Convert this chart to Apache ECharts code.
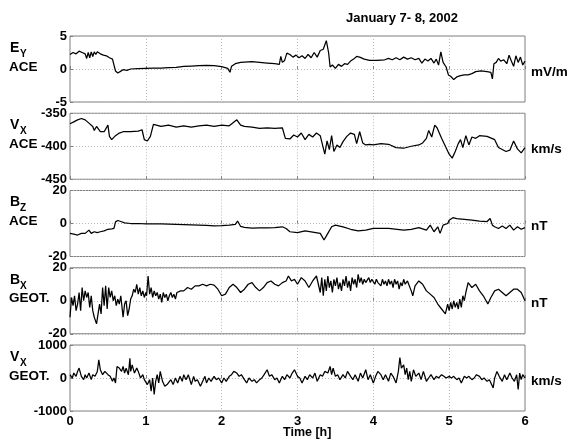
<!DOCTYPE html>
<html><head><meta charset="utf-8">
<script src="https://cdn.jsdelivr.net/npm/echarts@6/dist/echarts.min.js"></script>
<style>html,body{margin:0;padding:0;background:#fff}#c{width:585px;height:439px}</style>
</head><body><div id="c"></div>
<script>
// ---- data: [time (h), value] ----
const eyAce = [[0,2.2],[0.04,2.5],[0.08,2.3],[0.12,2.7],[0.16,2.5],[0.2,2.3],[0.22,1.6],[0.24,2.5],[0.26,1.7],[0.28,2.6],[0.3,1.9],[0.32,2.6],[0.34,2.2],[0.36,2.6],[0.4,2.3],[0.44,2.1],[0.48,2.0],[0.52,1.7],[0.56,1.5],[0.58,1.2],[0.6,-0.3],[0.63,-0.6],[0.66,-0.4],[0.7,-0.1],[0.75,-0.2],[0.8,0],[0.9,0.05],[1.0,0.1],[1.1,0.15],[1.2,0.15],[1.3,0.2],[1.4,0.25],[1.5,0.4],[1.6,0.45],[1.7,0.5],[1.8,0.55],[1.9,0.5],[2.0,0.35],[2.08,0.1],[2.11,-0.5],[2.13,0.4],[2.18,0.8],[2.25,1.0],[2.4,1.1],[2.5,1.0],[2.6,0.9],[2.7,0.8],[2.76,0.7],[2.78,1.9],[2.8,1.0],[2.83,1.3],[2.86,2.4],[2.9,2.2],[2.94,1.8],[2.98,2.1],[3.02,1.7],[3.06,2.0],[3.1,1.6],[3.14,2.2],[3.18,1.7],[3.22,2.5],[3.26,1.8],[3.3,2.8],[3.34,3.0],[3.38,4.3],[3.41,2.5],[3.43,0.3],[3.46,0.6],[3.5,0.1],[3.54,0.7],[3.58,0.4],[3.62,0.8],[3.66,0.7],[3.7,1.2],[3.74,1.5],[3.78,1.9],[3.82,1.8],[3.88,1.5],[3.95,1.3],[4.05,1.3],[4.15,1.4],[4.2,1.6],[4.25,1.4],[4.3,1.7],[4.35,1.4],[4.4,1.8],[4.45,1.5],[4.5,1.7],[4.55,1.4],[4.6,1.6],[4.64,0.9],[4.68,1.5],[4.72,1.2],[4.76,1.6],[4.8,0.9],[4.83,1.5],[4.86,0.6],[4.89,2.6],[4.92,1.0],[4.96,0.3],[4.99,-0.9],[5.02,-1.1],[5.06,-1.6],[5.1,-1.2],[5.15,-1.0],[5.2,-0.9],[5.25,-0.9],[5.3,-0.7],[5.35,-0.4],[5.42,-0.3],[5.5,-0.4],[5.55,-0.5],[5.57,-1.5],[5.59,0.8],[5.62,1.0],[5.65,1.6],[5.68,1.2],[5.72,1.4],[5.76,0.8],[5.79,2.1],[5.82,1.2],[5.85,0.4],[5.88,2.0],[5.91,1.0],[5.94,1.8],[5.97,0.6],[6.0,1.2]];

const vxAce = [[0,-366],[0.05,-363],[0.1,-360],[0.15,-358],[0.2,-360],[0.25,-365],[0.3,-370],[0.32,-376],[0.35,-370],[0.4,-378],[0.45,-378],[0.5,-368],[0.52,-385],[0.55,-390],[0.6,-384],[0.65,-380],[0.7,-378],[0.8,-378],[0.9,-377],[0.95,-375],[0.98,-390],[1.02,-392],[1.06,-385],[1.1,-367],[1.2,-370],[1.3,-368],[1.4,-371],[1.5,-369],[1.6,-371],[1.7,-369],[1.8,-368],[1.9,-370],[2.0,-368],[2.1,-369],[2.2,-360],[2.25,-368],[2.3,-370],[2.4,-371],[2.5,-373],[2.6,-372],[2.7,-373],[2.8,-372],[2.84,-388],[2.9,-389],[2.95,-383],[3.0,-386],[3.05,-380],[3.1,-390],[3.15,-382],[3.2,-386],[3.25,-380],[3.3,-384],[3.33,-398],[3.36,-412],[3.39,-392],[3.42,-405],[3.45,-384],[3.48,-408],[3.52,-398],[3.56,-402],[3.6,-393],[3.65,-385],[3.7,-380],[3.75,-382],[3.78,-396],[3.82,-378],[3.86,-395],[3.9,-398],[3.95,-397],[4.0,-398],[4.1,-396],[4.2,-397],[4.3,-402],[4.4,-403],[4.5,-400],[4.6,-398],[4.65,-395],[4.7,-388],[4.73,-376],[4.77,-386],[4.81,-368],[4.84,-372],[4.87,-380],[4.9,-388],[4.95,-400],[5.0,-412],[5.04,-418],[5.08,-408],[5.12,-396],[5.15,-390],[5.18,-402],[5.22,-384],[5.26,-398],[5.3,-386],[5.35,-388],[5.4,-384],[5.5,-385],[5.6,-390],[5.65,-402],[5.7,-405],[5.75,-408],[5.8,-406],[5.85,-392],[5.9,-404],[5.95,-410],[6.0,-402]];

const bzAce = [[0,-6],[0.05,-6.5],[0.1,-7],[0.15,-6],[0.2,-6],[0.25,-4],[0.28,-6],[0.32,-5],[0.36,-5.5],[0.4,-5],[0.45,-4.5],[0.5,-3.5],[0.55,-3.2],[0.58,-3],[0.6,1.0],[0.63,1.8],[0.67,1.2],[0.72,0.4],[0.8,0],[0.9,0],[1.0,-0.2],[1.2,-0.3],[1.4,-0.5],[1.6,-0.8],[1.8,-1.2],[1.9,-1.5],[2.0,-1.3],[2.1,-1.0],[2.18,-0.5],[2.21,1.5],[2.25,-1.8],[2.3,-2.3],[2.4,-2.8],[2.5,-2.6],[2.6,-2.7],[2.7,-2.5],[2.8,-2.0],[2.85,-3],[2.9,-5],[3.0,-5.5],[3.1,-4.5],[3.2,-5.2],[3.3,-6],[3.35,-10],[3.4,-6],[3.45,-2],[3.5,-1],[3.6,-2],[3.7,-3.5],[3.8,-4.5],[3.9,-4],[4.0,-3],[4.2,-3],[4.4,-4],[4.5,-3.5],[4.6,-2.5],[4.7,-4],[4.75,-1],[4.8,-5],[4.85,-2],[4.88,-6],[4.92,-1],[4.98,0],[5.0,2],[5.05,3.5],[5.1,3],[5.2,2.5],[5.3,2],[5.4,1.5],[5.5,1.2],[5.54,3],[5.57,-1],[5.6,-2],[5.65,-3],[5.7,-1.5],[5.75,-3],[5.8,-1],[5.85,-4],[5.9,-2],[5.95,-3.5],[6.0,-2.5]];

const bxGeot = [[0,-10],[0.02,2],[0.04,-3],[0.06,3],[0.08,-6],[0.1,-2],[0.12,5],[0.14,-6],[0.16,8],[0.18,0],[0.2,6],[0.22,2],[0.24,5],[0.26,-4],[0.28,3],[0.3,-6],[0.32,-10],[0.35,-14],[0.37,-8],[0.39,-2],[0.41,-8],[0.43,8],[0.45,-3],[0.47,9],[0.49,-5],[0.51,8],[0.53,2],[0.55,6],[0.57,0],[0.59,3],[0.61,-3],[0.63,1],[0.65,-2],[0.67,3],[0.7,-10],[0.72,-2],[0.74,0],[0.76,-9],[0.78,-5],[0.8,1],[0.82,3],[0.84,7],[0.86,5],[0.88,10],[0.9,4],[0.92,8],[0.94,3],[0.96,6],[0.98,2],[1.0,5],[1.01,3],[1.03,15],[1.05,4],[1.07,8],[1.09,2],[1.11,6],[1.13,3],[1.15,5],[1.17,1],[1.19,4],[1.21,-1],[1.23,5],[1.25,2],[1.27,4],[1.29,0],[1.31,3],[1.33,5],[1.35,2],[1.37,4],[1.39,1],[1.41,5],[1.43,4],[1.46,6],[1.5,6],[1.55,8],[1.6,7],[1.65,9],[1.7,9],[1.75,10],[1.8,9],[1.85,10],[1.9,9.5],[1.95,7],[2.0,3],[2.05,4],[2.1,8],[2.15,10],[2.2,8],[2.25,5],[2.3,7],[2.35,10],[2.4,11],[2.45,8],[2.5,6],[2.55,8],[2.6,11],[2.65,12],[2.7,10],[2.75,9],[2.8,11],[2.85,12],[2.88,15],[2.92,12],[2.96,13],[3.0,10],[3.05,14],[3.1,12],[3.15,8],[3.2,12],[3.25,15],[3.3,5],[3.32,14],[3.34,3],[3.36,13],[3.38,6],[3.4,15],[3.42,8],[3.44,12],[3.46,5],[3.48,13],[3.5,9],[3.52,14],[3.54,7],[3.56,11],[3.58,6],[3.6,13],[3.62,9],[3.64,15],[3.66,8],[3.68,12],[3.7,6],[3.72,14],[3.74,10],[3.76,13],[3.78,8],[3.8,16],[3.82,11],[3.84,14],[3.86,10],[3.88,13],[3.9,11],[3.92,12],[3.94,14],[3.96,11],[3.98,13],[4.0,12],[4.02,10],[4.04,13],[4.06,11],[4.08,12],[4.1,9],[4.12,13],[4.14,10],[4.16,12],[4.18,9],[4.2,13],[4.22,10],[4.24,12],[4.26,8],[4.28,13],[4.3,10],[4.32,12],[4.34,7],[4.36,11],[4.38,9],[4.4,13],[4.42,10],[4.45,12],[4.5,6],[4.52,3],[4.55,9],[4.6,12],[4.65,10],[4.7,6],[4.75,4],[4.8,2],[4.85,-2],[4.9,-5],[4.95,-8],[4.98,-2],[5.0,-6],[5.02,-1],[5.04,-5],[5.06,0],[5.08,-4],[5.1,-1],[5.12,-5],[5.14,1],[5.16,-4],[5.18,3],[5.2,0],[5.22,5],[5.25,11],[5.3,8],[5.35,10],[5.4,6],[5.45,3],[5.51,-2],[5.55,2],[5.6,6],[5.65,7],[5.7,5],[5.75,3],[5.8,5],[5.85,7],[5.9,7],[5.95,5],[6.0,0]];

const vxGeot = [[0,100],[0.03,0],[0.05,150],[0.08,50],[0.1,200],[0.12,300],[0.15,50],[0.18,-50],[0.2,100],[0.22,0],[0.25,150],[0.28,-50],[0.3,100],[0.33,50],[0.36,200],[0.38,550],[0.4,250],[0.43,100],[0.46,200],[0.5,100],[0.53,50],[0.56,-100],[0.58,0],[0.6,-150],[0.62,350],[0.65,300],[0.68,200],[0.7,350],[0.72,150],[0.74,300],[0.77,100],[0.79,600],[0.8,200],[0.82,400],[0.85,150],[0.88,300],[0.9,200],[0.93,0],[0.96,100],[0.98,-50],[1.0,-100],[1.02,-200],[1.05,-50],[1.07,-400],[1.09,0],[1.11,-500],[1.13,-100],[1.15,100],[1.17,-150],[1.19,200],[1.22,-100],[1.25,-250],[1.28,-200],[1.3,-250],[1.33,-50],[1.36,-200],[1.39,0],[1.42,-150],[1.45,50],[1.48,-100],[1.5,100],[1.53,-50],[1.56,100],[1.6,-200],[1.63,50],[1.65,-100],[1.68,-50],[1.72,-250],[1.75,-100],[1.78,50],[1.8,-150],[1.83,0],[1.86,-100],[1.9,50],[1.93,-50],[1.96,0],[2.0,-150],[2.03,0],[2.06,-100],[2.1,50],[2.13,100],[2.16,200],[2.2,150],[2.23,50],[2.26,100],[2.3,-50],[2.33,-150],[2.36,0],[2.4,-100],[2.43,-50],[2.46,-150],[2.5,-50],[2.53,0],[2.56,100],[2.6,250],[2.63,50],[2.66,100],[2.7,-50],[2.73,0],[2.76,-150],[2.8,50],[2.83,-50],[2.86,100],[2.9,0],[2.93,150],[2.96,250],[3.0,50],[3.03,0],[3.06,-150],[3.1,50],[3.13,-50],[3.16,100],[3.2,0],[3.23,150],[3.26,-100],[3.3,100],[3.33,50],[3.36,200],[3.4,150],[3.43,350],[3.45,100],[3.47,300],[3.5,50],[3.53,100],[3.56,-50],[3.6,100],[3.63,0],[3.66,200],[3.7,50],[3.73,-50],[3.76,100],[3.8,-100],[3.83,150],[3.86,0],[3.9,250],[3.93,-50],[3.96,100],[4.0,-150],[4.03,50],[4.06,200],[4.1,100],[4.13,-50],[4.16,100],[4.2,-100],[4.23,150],[4.26,50],[4.3,-150],[4.33,200],[4.35,620],[4.37,300],[4.4,400],[4.42,100],[4.44,300],[4.46,-50],[4.48,200],[4.5,-100],[4.53,250],[4.56,50],[4.6,150],[4.63,-50],[4.66,200],[4.7,-100],[4.73,0],[4.76,100],[4.8,-50],[4.83,50],[4.86,0],[4.9,100],[4.93,50],[4.96,0],[5.0,50],[5.03,0],[5.06,50],[5.1,-50],[5.13,0],[5.16,-150],[5.2,50],[5.23,0],[5.26,50],[5.3,-50],[5.33,0],[5.36,100],[5.4,50],[5.43,-50],[5.46,0],[5.5,-100],[5.53,-50],[5.56,-200],[5.58,-300],[5.6,0],[5.63,200],[5.66,50],[5.7,-100],[5.73,100],[5.76,-50],[5.8,150],[5.83,0],[5.86,-100],[5.89,100],[5.91,-350],[5.93,150],[5.95,-50],[5.97,100],[6.0,0]];

// ---- axis ranges and labels ----
const yMins = [-5, -450, -20, -20, -1000];
const yMaxs = [5, -350, 20, 20, 1000];
const yIntervals = [5, 50, 20, 20, 1000];
const quantityMain = ['E', 'V', 'B', 'B', 'V'];
const quantitySub = ['Y', 'X', 'Z', 'X', 'X'];
const sources = ['ACE', 'ACE', 'ACE', 'GEOT.', 'GEOT.'];
const units = ['mV/m', 'km/s', 'nT', 'nT', 'km/s'];
const xTicks = [0, 1, 2, 3, 4, 5, 6];
const titleText = 'January 7- 8, 2002';
const xTitle = 'Time [h]';
const seriesList = [eyAce, vxAce, bzAce, bxGeot, vxGeot];

const FONT = '"Liberation Sans", Arial, sans-serif';
const L = 70, W = 455, TOP0 = 36, STEP = 77.25, H = 66;
const grids = [], xAxes = [], yAxes = [], series = [], graphics = [];
for (let i = 0; i < 5; i++) {
  const top = TOP0 + i * STEP;
  grids.push({left: L, top: top, width: W, height: H, show: true, borderColor: '#808080', borderWidth: 1, backgroundColor: 'transparent'});
  xAxes.push({
    type: 'value', gridIndex: i, min: xTicks[0], max: xTicks[xTicks.length-1], interval: 1,
    axisLine: {show: false},
    axisTick: {show: true, inside: true, length: 3, lineStyle: {color: '#808080'}},
    axisLabel: {show: i === 4, color: '#000', fontFamily: FONT, fontWeight: 'bold', fontSize: 13, margin: 4},
    splitLine: {show: true, lineStyle: {color: '#b8b8b8', type: [1, 2], width: 1}}
  });
  yAxes.push({
    type: 'value', gridIndex: i, min: yMins[i], max: yMaxs[i], interval: yIntervals[i],
    axisLine: {show: false},
    axisTick: {show: true, inside: true, length: 3, lineStyle: {color: '#808080'}},
    axisLabel: {color: '#000', fontFamily: FONT, fontWeight: 'bold', fontSize: 13, margin: 3,
      formatter: function (v) { return String(v); }},
    splitLine: {show: true, lineStyle: {color: '#b8b8b8', type: [1, 2], width: 1}}
  });
  series.push({type: 'line', xAxisIndex: i, yAxisIndex: i, data: seriesList[i], showSymbol: false, symbol: 'none',
    lineStyle: {color: '#000', width: 1.25}, animation: false});
  const zeroY = top + H / 2;
  graphics.push({type: 'text', left: 10, top: zeroY - 28, style: {text: quantityMain[i], font: 'bold 14px ' + FONT, fill: '#000'}});
  graphics.push({type: 'text', left: 20, top: zeroY - 20, style: {text: quantitySub[i], font: 'bold 10px ' + FONT, fill: '#000'}});
  graphics.push({type: 'text', left: 9, top: zeroY - 9, style: {text: sources[i], font: 'bold 13.5px ' + FONT, fill: '#000'}});
  graphics.push({type: 'text', left: 531, top: zeroY - 4, style: {text: units[i], font: 'bold 13.5px ' + FONT, fill: '#000'}});
}
graphics.push({type: 'text', left: 346, top: 12, style: {text: titleText, font: 'bold 13px ' + FONT, fill: '#000'}});
graphics.push({type: 'text', left: 283, top: 426, style: {text: xTitle, font: 'bold 12.5px ' + FONT, fill: '#000'}});

const chart = echarts.init(document.getElementById('c'), null, {renderer: 'canvas'});
chart.setOption({animation: false, backgroundColor: '#fff', grid: grids, xAxis: xAxes, yAxis: yAxes, series: series, graphic: graphics});
</script></body></html>
